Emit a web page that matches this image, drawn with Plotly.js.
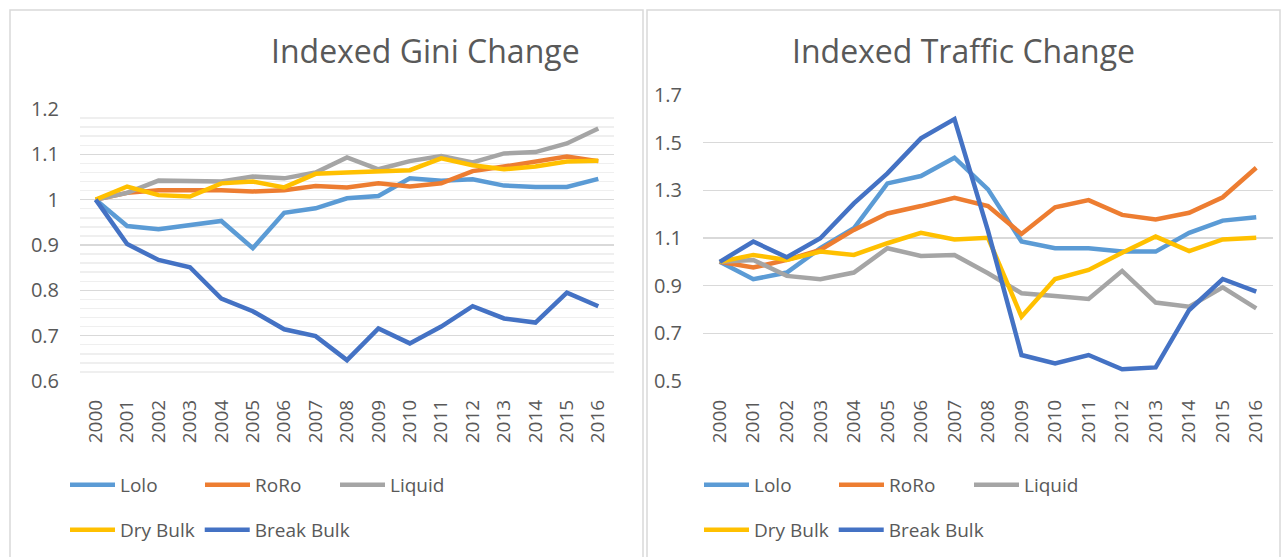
<!DOCTYPE html>
<html>
<head>
<meta charset="utf-8">
<script src="https://cdn.plot.ly/plotly-3.0.1.min.js"></script>
<style>html,body{margin:0;padding:0;background:#fff;}#chart{width:1282px;height:557px;}</style>
</head>
<body>
<div id="chart"></div>
<script>
const years = ["2000","2001","2002","2003","2004","2005","2006","2007","2008","2009","2010","2011","2012","2013","2014","2015","2016"];
const seriesNames = ["Lolo","RoRo","Liquid","Dry Bulk","Break Bulk"];
const seriesColors = ["#5B9BD5","#ED7D31","#A5A5A5","#FFC000","#4472C4"];

// Indexed Gini Change
const giniLolo      = [1.000,0.942,0.935,0.944,0.953,0.893,0.971,0.981,1.003,1.008,1.047,1.042,1.045,1.031,1.028,1.028,1.046];
const giniRoRo      = [1.000,1.015,1.021,1.021,1.021,1.018,1.021,1.030,1.027,1.036,1.029,1.036,1.063,1.073,1.085,1.095,1.085];
const giniLiquid    = [1.000,1.015,1.042,1.040,1.040,1.051,1.047,1.060,1.093,1.067,1.085,1.096,1.082,1.102,1.105,1.124,1.157];
const giniDryBulk   = [1.000,1.029,1.010,1.007,1.036,1.040,1.027,1.057,1.060,1.063,1.065,1.091,1.076,1.067,1.073,1.084,1.086];
const giniBreakBulk = [1.000,0.902,0.867,0.851,0.782,0.754,0.714,0.699,0.646,0.716,0.683,0.720,0.765,0.738,0.729,0.795,0.765];

// Indexed Traffic Change
const trafLolo      = [1.000,0.927,0.955,1.057,1.141,1.329,1.360,1.437,1.304,1.085,1.057,1.057,1.043,1.043,1.122,1.173,1.187];
const trafRoRo      = [1.000,0.976,1.008,1.050,1.134,1.203,1.234,1.269,1.234,1.117,1.229,1.259,1.197,1.178,1.206,1.271,1.395];
const trafLiquid    = [1.000,1.008,0.941,0.927,0.955,1.057,1.025,1.029,0.952,0.868,0.857,0.844,0.962,0.829,0.812,0.893,0.805];
const trafDryBulk   = [1.000,1.029,1.008,1.043,1.029,1.078,1.122,1.094,1.101,0.770,0.928,0.966,1.038,1.106,1.045,1.094,1.101];
const trafBreakBulk = [1.000,1.085,1.019,1.099,1.245,1.371,1.518,1.599,1.130,0.609,0.574,0.609,0.549,0.557,0.798,0.928,0.875];

const leftTitle = "Indexed Gini Change";
const rightTitle = "Indexed Traffic Change";

const W = 1282, H = 557;
const fx = p => p / W;
const fy = p => 1 - p / H;

const FONT = "Open Sans, Lato, sans-serif";
const TXT = "#595959";

const giniSets = [giniLolo, giniRoRo, giniLiquid, giniDryBulk, giniBreakBulk];
const trafSets = [trafLolo, trafRoRo, trafLiquid, trafDryBulk, trafBreakBulk];

const traces = [];
[0,1,2,3,4].forEach(i => {
  traces.push({
    x: years, y: giniSets[i], name: seriesNames[i], type: 'scatter', mode: 'lines',
    line: {color: seriesColors[i], width: 4.5},
    xaxis: 'x', yaxis: 'y',
    legend: i < 3 ? 'legend' : 'legend2'
  });
});
[0,1,2,3,4].forEach(i => {
  traces.push({
    x: years, y: trafSets[i], name: seriesNames[i], type: 'scatter', mode: 'lines',
    line: {color: seriesColors[i], width: 4.5},
    xaxis: 'x2', yaxis: 'y2',
    legend: i < 3 ? 'legend3' : 'legend4'
  });
});

const xCommon = {
  type: 'category', range: [-0.5, 16.5], tickangle: -90, showgrid: false, zeroline: false,
  showline: false, ticks: '', ticklabelstandoff: 14,
  tickfont: {family: FONT, size: 19, color: TXT}, fixedrange: true
};

const legCommon = {
  orientation: 'h', bgcolor: 'rgba(0,0,0,0)', font: {family: FONT, size: 19, color: TXT},
  itemwidth: 45, xanchor: 'left', yanchor: 'middle',
  itemclick: false, itemdoubleclick: false
};
const legRow1 = Object.assign({}, legCommon, {entrywidth: 75, entrywidthmode: 'pixels'});
const legRow2 = Object.assign({}, legCommon, {itemsizing: 'trace'});

const layout = {
  width: W, height: H,
  margin: {l: 0, r: 0, t: 0, b: 0},
  paper_bgcolor: '#fff', plot_bgcolor: '#fff',
  showlegend: true,
  xaxis: Object.assign({}, xCommon, {domain: [fx(80), fx(614)], anchor: 'y'}),
  yaxis: {
    domain: [fy(381), fy(109)], range: [0.6, 1.2], tick0: 0.6, dtick: 0.1,
    gridcolor: '#D9D9D9', gridwidth: 1.5, zeroline: false, showline: false, ticks: '',
    ticklabelstandoff: 20, tickfont: {family: FONT, size: 20, color: TXT},
    minor: {dtick: 0.02, tick0: 0.6, showgrid: true, gridcolor: '#EFEFEF', gridwidth: 1.5},
    anchor: 'x', fixedrange: true
  },
  xaxis2: Object.assign({}, xCommon, {domain: [fx(703), fx(1273)], anchor: 'y2'}),
  yaxis2: {
    domain: [fy(381), fy(95)], range: [0.5, 1.7], tick0: 0.5, dtick: 0.2,
    gridcolor: '#D9D9D9', gridwidth: 1.5, zeroline: false, showline: false, ticks: '',
    ticklabelstandoff: 20, tickfont: {family: FONT, size: 20, color: TXT},
    anchor: 'x2', fixedrange: true
  },
  legend: Object.assign({}, legRow1, {x: fx(65), y: fy(485)}),
  legend2: Object.assign({}, legRow2, {x: fx(65), y: fy(530)}),
  legend3: Object.assign({}, legRow1, {x: fx(699), y: fy(485)}),
  legend4: Object.assign({}, legRow2, {x: fx(699), y: fy(530)}),
  annotations: [
    {text: leftTitle, xref: 'paper', yref: 'paper', x: fx(425), y: fy(51), xanchor: 'center', yanchor: 'middle',
     showarrow: false, font: {family: FONT, size: 32, color: TXT}},
    {text: rightTitle, xref: 'paper', yref: 'paper', x: fx(963), y: fy(51), xanchor: 'center', yanchor: 'middle',
     showarrow: false, font: {family: FONT, size: 32, color: TXT}}
  ],
  shapes: [
    {type: 'rect', xref: 'paper', yref: 'paper', x0: fx(10), x1: fx(643), y0: fy(570), y1: fy(10),
     line: {color: '#D9D9D9', width: 1.5}, fillcolor: 'rgba(0,0,0,0)', layer: 'below'},
    {type: 'rect', xref: 'paper', yref: 'paper', x0: fx(647), x1: fx(1280), y0: fy(570), y1: fy(10),
     line: {color: '#D9D9D9', width: 1.5}, fillcolor: 'rgba(0,0,0,0)', layer: 'below'}
  ]
};

Plotly.newPlot('chart', traces, layout, {staticPlot: true, displayModeBar: false});
</script>
</body>
</html>
